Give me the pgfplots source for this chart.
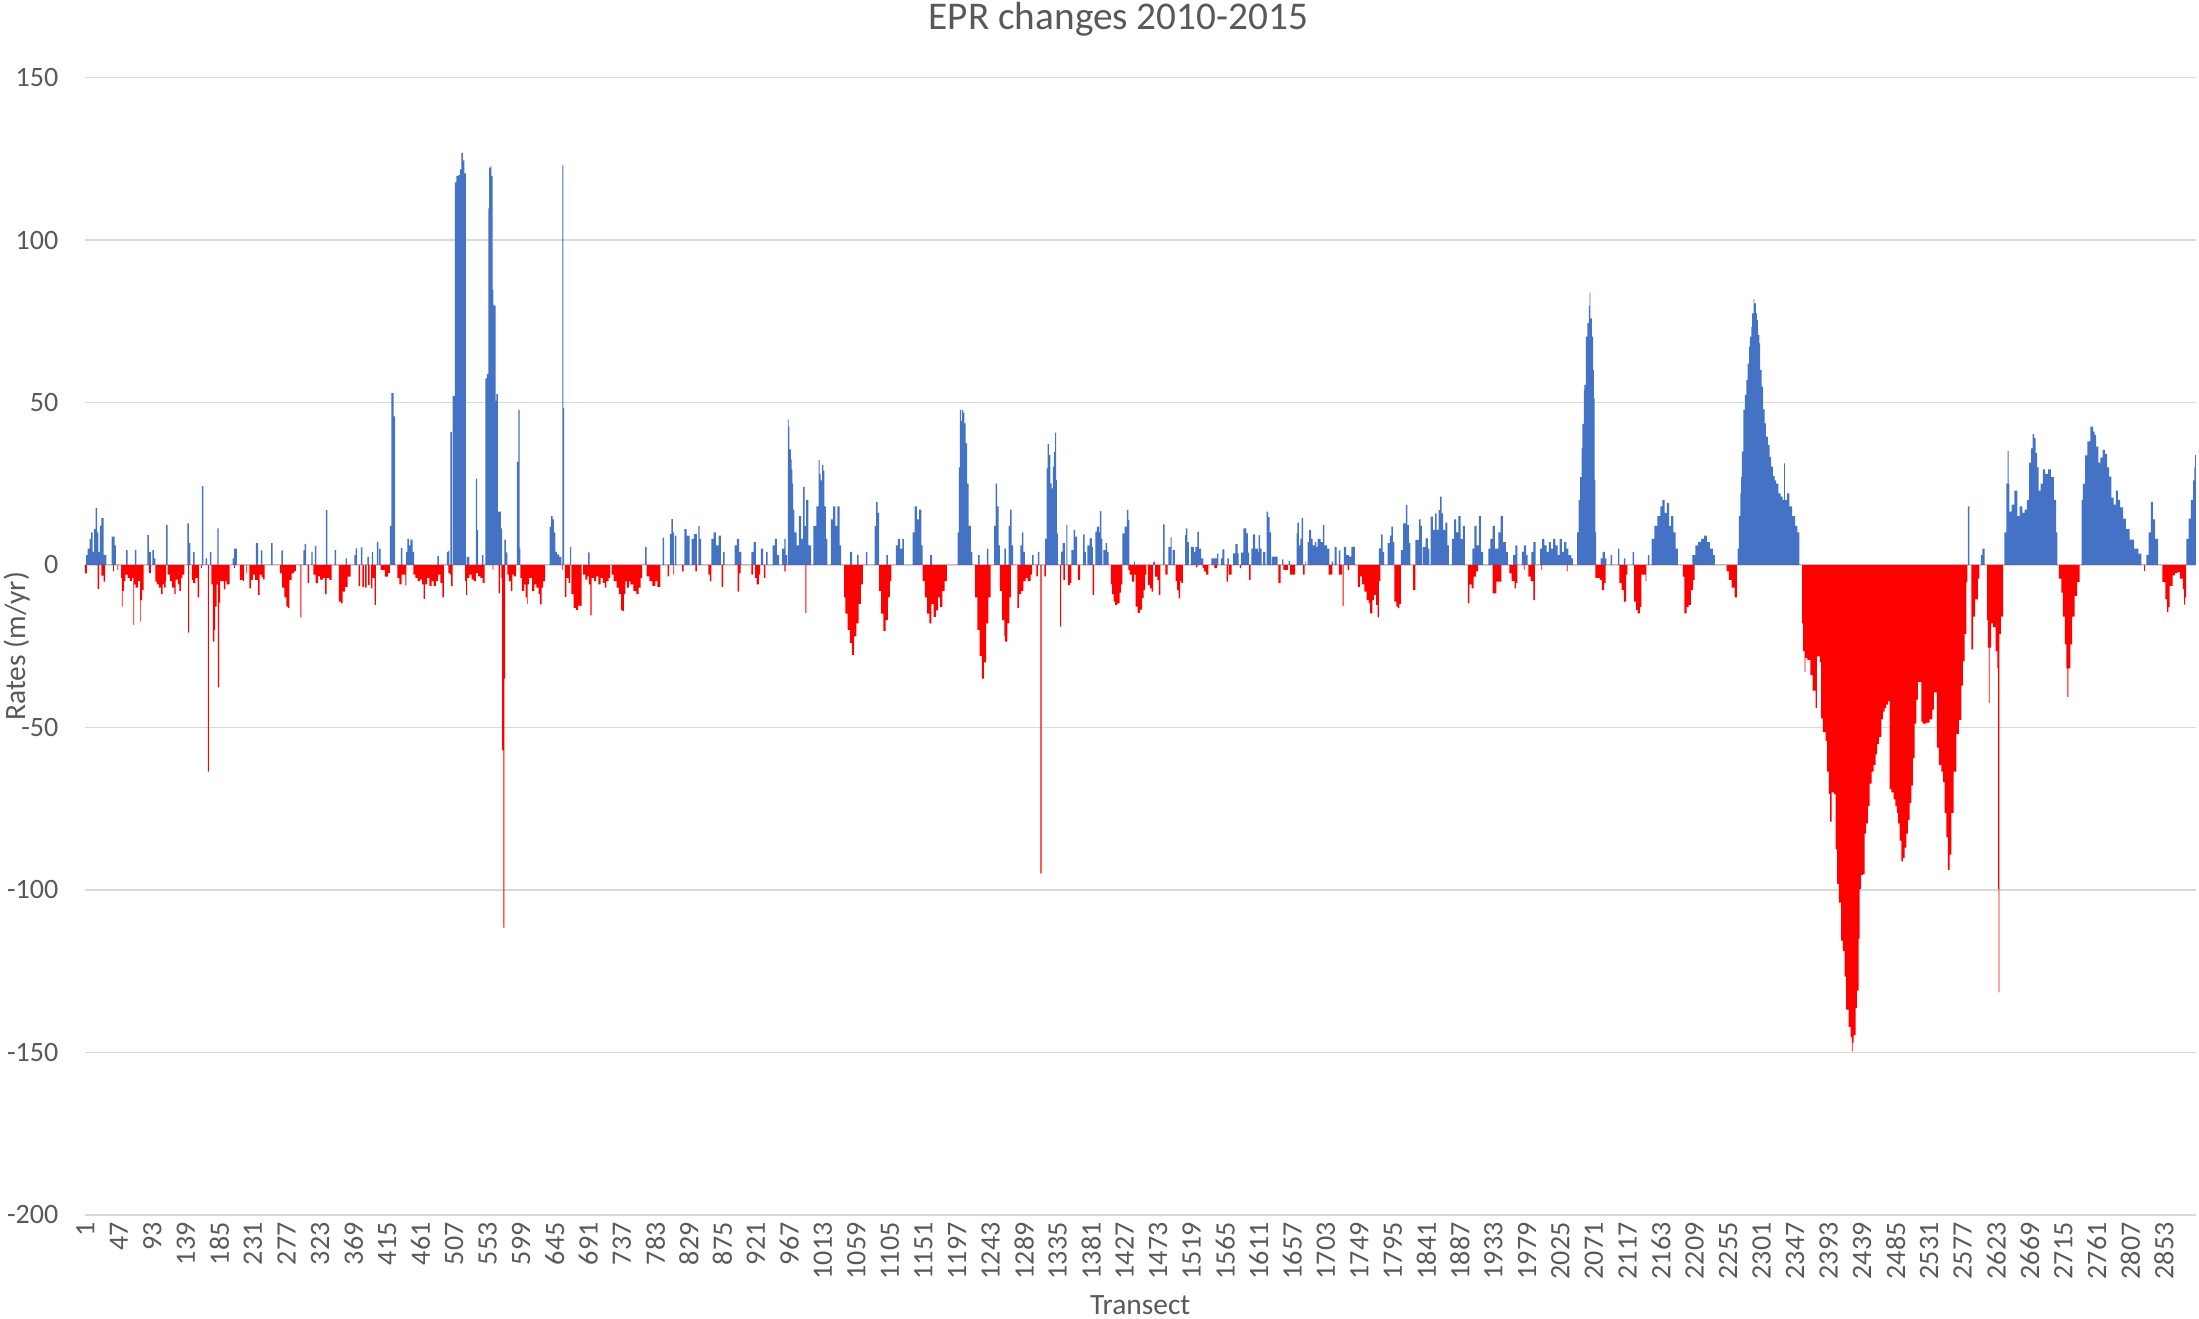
\documentclass[border=0pt]{standalone}
\usepackage{fontspec}
\setmainfont{Carlito}
\usepackage{pgfplots}
\pgfplotsset{compat=1.18}
\definecolor{eblue}{HTML}{4472C4}
\definecolor{ered}{HTML}{FF0000}
\definecolor{gridc}{HTML}{D9D9D9}
\definecolor{txt}{HTML}{595959}
\begin{document}
\begin{tikzpicture}
\useasboundingbox (0,0) rectangle (784pt,470.25pt);
\begin{axis}[
  at={(30.3pt,37.1pt)}, anchor=south west,
  scale only axis, width=752.6pt, height=405.5pt,
  xmin=0.5, xmax=2897, ymin=-200, ymax=150,
  axis line style={draw=none},
  major tick length=0pt,
  ytick={-200,-150,-100,-50,0,50,100,150},
  yticklabels={-200,-150,-100,-50,0,50,100,150},
  xtick={1,47,...,2853},
  scaled x ticks=false,
  xticklabel={\pgfmathprintnumber[assume math mode=true,fixed,precision=0,1000 sep={}]{\tick}},
  ymajorgrids, grid style={draw=gridc, line width=0.6pt},
  tick label style={font=\fontsize{10}{12}\selectfont, text=txt},
  yticklabel style={anchor=east, inner sep=0pt, xshift=-9.3pt},
  xticklabel style={yshift=-2.5pt, rotate=90, anchor=east, inner sep=0pt},
]
\addplot[const plot, fill=eblue, draw=none] table {
0.5 0
2 3
4 5
7 8
9 10
11 4
13 11
15 17.5
17 10
19 4
21 12
23 14.4
26 3
30 0
37 8.7
41 6
43 0
57 4.6
59 0
69 4.6
71 0
86 9.2
88 4
91 0
93 4.6
95 2
97 0
112 12.3
114 0
141 12.8
143 6.7
145 0
149 4
151 0
161 24.3
163 0
166 2
168 0
172 4
174 0
182 11.3
184 0
203 2
205 5
209 0
235 6.7
238 0
242 4.5
244 0
256 6.7
258 0
270 4.5
272 0
300 4.5
302 6.5
304 0
311 4
313 0
316 5.9
318 0
331 16.9
333 0
343 4.6
345 0
358 2
360 0
370 3
372 5.1
374 0
379 5.4
381 0
388 2.5
390 0
394 4
396 0
401 7.2
403 0
404 5
406 0
419 12
421 52.9
424 45.7
426 0
434 5.2
436 0
441 4
443 8
445 6
447 7.8
450 4
452 0
484 2.7
486 0
497 4
499 4.4
500.5 0
502 40.9
504 0
505 52
508 117.7
510 119.7
513 120
515 121.7
517 126.8
519 124.5
521 120.5
523 0
524 2.5
528 0
537 26.6
538.5 10.7
540 0
545 3
547 0
550 57.4
552 58.7
554 109.7
555 122.3
557 122.8
558 119.7
560 84.7
561 80
562 79.8
564 50.5
565 52.6
567 16.4
571 11.3
573 0
576 7.8
578 3.9
580 0
593 31.7
595 47.7
597 5
598 0
638 11.8
640 15
642 14
644 10
646 4
648 3.3
651 2.5
654 0
655.5 123
657 48.3
658 0
666 5.6
667.5 0
691 3.9
693 0
769 5.6
771 0
793 8.4
795 0
803 9.5
805 14.1
807 10
808.5 0
810 9
812 0
823 11
826 9
830 0
833 8
836 9.5
840 0
842 12
844 8
846 0
860 8
863 10
866 6
870 9
873 0
876 4
878 0
892 6
895 8
898 4
901 0
915 4
918 7
921 0
928 5
931 0
935 4
937 0
944 6
947 8
950 3
953 0
957 5
960 8
962 3
964 0
965 44.8
966 42.6
967 35.6
969 32.5
970 29.4
971 25
972 17
974 10
977 6
980 15
983 8
986 24
988 12
990 20
993 6
997 0
1000 12
1004 18
1007 32.3
1008.5 28
1010 26
1012 30.8
1013.5 29
1015 18
1017 8
1019 0
1024 14
1027 18
1030 12
1033 18
1036 6
1038 0
1050 4
1053 0
1060 3
1062 0
1072 4
1074 0
1084 12
1086 19.4
1088 16
1090 0
1100 3
1102 0
1113 6
1116 8
1119 5
1122 8
1124 0
1136 10
1139 18
1142 14
1145 17
1148 6
1150 0
1160 3
1163 0
1198 10
1199.5 30
1201 47.7
1202.5 44.3
1204 47.7
1205.5 46.9
1207 43.6
1209 37.4
1211 25
1213 12
1216 4
1218 0
1226 3
1228 0
1238 5
1240 0
1248 12
1250 25
1252 18
1254 6
1256 0
1262 5
1264 0
1268 12
1270 17
1272 6
1274 0
1284 6
1286 10
1288 4
1290 0
1300 3
1302 0
1308 4
1310 0
1318 8
1320 29.7
1321.5 37.2
1323 33.8
1325 25.1
1327 23.6
1328.5 30.3
1330 34.9
1331.5 40.7
1333 26.2
1334 9.7
1335.5 0
1340 4.1
1342 6.7
1345 0
1347 12.3
1348.5 0
1354 4.6
1357 10.8
1359 8.7
1362 0
1370 9.4
1372 4
1374 0
1376 6
1379 8.2
1382 5.6
1383.5 0
1387 10.3
1389 11.8
1392 10
1393 16.6
1395 8
1396.5 0
1398 4.6
1401 6.7
1403 4
1405 0
1424 9.7
1427 11.8
1430 16.9
1432 13.8
1433.5 0
1440 1
1441 0
1466 1
1469 0
1480 12.5
1482 0
1487 5.6
1490 8.5
1491.5 0
1493 4.6
1496 0
1510 9.2
1511 11.3
1513 7
1515 0
1518 5.6
1522 4
1524 5.6
1527 10.3
1529 5
1532 2
1535 0
1546 2
1554 3.5
1555.5 0
1559 2
1561 4.8
1564 0
1568 2
1570 0
1576 3.6
1579 6.4
1582 3.6
1583.5 0
1587 3.8
1590 11.3
1594 9.7
1596 3.8
1598 0
1601 5
1603 9.4
1606 5
1610 4
1611 9.2
1613 5
1615 0
1617 4
1620 0
1622 16.4
1624 14.7
1626 10
1628 0
1629 2.6
1637 0
1643 1.7
1645 0
1652 1.2
1654 0
1663 9.7
1664 13
1666 6
1668 8
1670 14.4
1672 0
1675 1
1676 0
1678 7
1680 10.8
1683 8
1685 6
1688 7
1690 5.6
1692 8
1696 7
1699 12.3
1701 6
1705 5
1708 0
1711 1
1713 0
1715 5.6
1718 0
1721 4.5
1723 0
1728 5.6
1731 3
1735 2.6
1738 5.6
1743 0
1776 5.1
1779 9.4
1781 4
1783 0
1788 6.7
1791 9
1793 11.8
1795 7
1797 0
1806 4.6
1809 12.8
1813 18.5
1815 12.3
1817 6.7
1819 0
1826 7.7
1831 14
1833 12
1835 0
1836 5.6
1840 8.2
1843 5
1845 0
1847 14.9
1850 10.8
1853 15.9
1855 10.8
1858 16.9
1860 21
1862 15.9
1864 10.8
1867 13
1870 6
1872 0
1876 8
1879 14
1882 10
1885 15
1888 8
1891 12
1894 0
1904 5
1907 12
1910 6
1913 15
1916 4
1919 0
1926 5
1929 8
1932 12
1935 5
1940 10
1943 15
1946 7
1950 4
1953 0
1960 3
1963 6
1966 0
1972 4
1975 6
1978 3
1980 0
1985 4
1988 7
1991 0
1997 5
2000 8
2003 6
2006 4
2009 7
2012 5
2015 8
2018 6
2021 3
2024 8
2027 4
2030 7
2033 5
2036 3
2040 2
2042 0
2048 10
2050 20
2052 27
2054 35.9
2055 43.4
2057 53.8
2058 55.4
2060 70.3
2062 74.4
2064 79.7
2065 83.8
2066 75.9
2068 70.3
2070 60
2071 51.3
2072 26
2073 10
2074 0
2080 2
2083 4
2086 2
2088 0
2094 3
2096 0
2104 5
2106 0
2112 2
2114 0
2124 4
2126 0
2145 3
2147 0
2150 8
2154 12
2158 15
2162 18
2165 20
2168 16
2171 19
2174 12
2177 15
2180 10
2183 5
2186 0
2206 3
2210 6
2214 7
2218 8
2222 9
2226 7
2230 5
2234 3
2237 0
2268 5
2270 15
2272 22
2273 27
2274 34.9
2276 47.7
2278 52.3
2280 56.9
2282 62
2284 67.2
2285 70.3
2287 73.3
2288 77.4
2290 81.8
2291 80.5
2293 77.4
2294.6 75.4
2296 70.8
2298 68.2
2299 60
2301 54.9
2303 47.9
2305 43.6
2307 39.5
2309.7 36.9
2312 33.3
2314 30.3
2316.5 27.4
2319 26
2321 25
2324 22
2327 21
2330 20
2332 31.3
2333 20
2336 22
2339 18
2343 15
2347 12
2350 10
2353 0
2584 18
2586 0
2602 3
2604 5
2607 0
2634 10
2637 25
2638.5 35
2640 25
2641 16.4
2644 18.6
2648 22.9
2652 15
2655 18
2659 16
2662 17
2665 20
2668 31.5
2671 35.9
2673 40.3
2675 39
2677 34.4
2679 30
2681 22.9
2684 25
2687 29.4
2690 28
2694 29.4
2698 27
2702 20
2705 10
2707 0
2740 20
2742 25
2745 33.7
2748 38
2752 42.6
2756 41
2758 40
2760 36.4
2763 31.5
2766 33
2769 35.4
2772 34.2
2775 30
2778 27.2
2781 20.7
2784 18.6
2787 22.9
2790 20
2793 17.7
2797 14.3
2801 11
2806 7.8
2812 5
2818 3.5
2822 0
2829 3
2832 10
2835 19.4
2838 14
2841 8
2845 0
2884 8
2887 14.3
2890 20
2893 26
2895 30
2896 33.8
2897 0
} \closedcycle;
\addplot[const plot, fill=ered, draw=none] table {
0.5 -2.6
3 0
18 -7.4
20 0
23 -3.3
26 -5.1
28 0
39 -2
40 0
45 -1.5
46 0
50 -4
51 -12.8
52 -8
54 -5
56 -3
59 -4
62 -5
65 -4
67 -18.5
68 -6
70 -7
73 -5
76 -17.4
77 -10.8
79 -7.7
81 0
88 -2.5
91 0
97 -5.1
99 -6
102 -7
105 -9
107 -6
109 -7
111 -5
112 0
114 -3
117 -5
120 -7
123 -9
125 -4.5
128 -6
130 -8
132 -4
134 -3
137 0
142 -20.8
143.5 0
147 -4.6
149 -5.6
152 -4
155 -10
157 0
160 -1
161 0
169 -63.6
170.5 0
174 -6
176 -23.6
178 -20
179 -12.8
181 -6
183 -37.7
184.5 -11.6
186 -5
191 -7.5
193 -5
195 -6
199 0
205 -1
206 0
213 -4.6
217 -5
219 0
222 -2.6
223 0
226 -7.2
228 -4.6
231 -3
234 -4.6
238 -9.2
240 -3
243 -3.8
245 -4.4
247 0
268 -2.6
271 -7
274 -10
277 -12.8
279 -13.3
281 -4.6
284 -2.6
287 -2
290 0
296 -16.1
297.5 0
306 -5.6
308 0
314 -3
317 -5.6
320 -3.5
323 -4.5
327 -4
330 -9
332 -4
336 -4.6
339 0
349 -11.3
352 -11.8
354 -8.2
357 -6.7
361 -3.6
365 0
376 -6.5
378 0
381 -6.7
383 0
385 -7
387 0
389 -6.2
391 0
393 -7.2
395 -4
398 -12.3
399.5 0
406 -1.5
412 -3.6
416 -2.5
419 0
429 -4
432 -6
435 -3
440 -6.3
441.5 0
451 -3
454 -4
457 -5
460 -4.5
463 -6
465 -10.4
467 -6
470 -4
473 -6.4
476 -5
479 -6.5
482 -5
485 -3
488 -5.5
491 -10
493 0
499 -2.5
501 -3
503 -6.4
505 0
522 -5
523.5 -9.2
525 -4
528 -3
531 -4.5
534 -5
537 -2.5
540 -3.5
543 -4
546 -5.5
549 0
560 -1.5
561 0
568 -8.7
570 0
572 -4
573 -57
574.5 -111.6
575.8 -35
577 0
580 -3
582 -5
585 -8
587 -3
589 -3.5
592 0
598 -4
600 -8
603 -6
605 -10
607 -12
608 -6
610 -4
614 -8
617 -6
620 -7
623 -9
625 -12.1
627 -7
629 -5
632 0
655 -1.5
656 0
659 -9.8
661 -4
664 -5.5
666 0
668 -9
671 -13.2
674 -13.8
677 -12.5
680 -12.6
682 0
684 -3
687 -4.5
690 -3.5
692 -6
694 -15.5
695.5 -4
699 -5
702 -3.5
705 -6
708 -4
711 -5.5
714 -7
716 -5
719 -4
721 0
723 -3
726 -5
730 -7
733 -9
736 -13.8
738 -14.2
740 -9
742 -5
744 -7
747 -5
749 -6
753 -8
757 -9
760 -7
763 -4
765 0
771 -3.5
775 -5
779 -6.4
783 -5
786 -6.7
790 0
800 -3.5
802 0
808 -3
809 0
820 -2
822 0
838 -2
840 0
856 -3
858 -5
860 0
874 -6.7
876 0
896 -8.2
898 -2.6
900 0
915 -3
917 0
920 -4
922 -6
925 -3
927 0
932 -4
934 0
960 -2
962 0
989 -14.7
990.5 0
1042 -10
1044 -15
1047 -20
1050 -24
1053 -27.7
1056 -22
1059 -18
1062 -12
1065 -6
1068 0
1090 -8
1093 -15
1096 -20.3
1099 -17
1102 -10
1105 -5
1107 0
1150 -5
1153 -10
1156 -15
1159 -18
1162 -12
1165 -16
1168 -14
1171 -10
1174 -13
1177 -8
1180 -5
1183 0
1222 -10
1225 -20
1228 -28
1231 -35
1234 -30
1237 -18
1240 -10
1243 0
1256 -8
1259 -17
1262 -22
1263 -23.6
1266 -18
1269 -10
1271 0
1280 -13.3
1282 -9
1285 -8
1288 -5
1291 -4
1294 -5
1298 -3
1300 0
1306 -3.5
1308 0
1311.5 -94.9
1313 0
1317 -3.5
1319 0
1338.5 -19
1340 0
1343 -4.6
1345 0
1349 -6.2
1352 -5.6
1354 0
1363 -4.6
1366 0
1383 -9.2
1385 0
1408 -6
1410 -9
1412 -11.3
1414 -12.3
1417 -11.8
1420 -8.5
1422 -6
1424 0
1432 -1.5
1434 -3
1437 -5.1
1440 -3
1442 -12.8
1445 -14.7
1448 -13.7
1451 -10.2
1453 -7.7
1455 -3
1457 0
1459 -6.2
1462 -7.2
1464 -8.2
1466 0
1469 -3.6
1472 -4.6
1474 -9.2
1476 0
1483 -3
1486 0
1497 -5
1499 -7.7
1501 -10.3
1503 -5
1505 -5.6
1507 0
1525 -0.7
1527 0
1534 -1
1536 -2
1539 -3
1542 0
1550 -1
1554 0
1567 -5.1
1569 0
1570 -3
1574 0
1585 -1
1587 0
1598 -4.6
1600 0
1638 -5.6
1641 0
1645 -1.5
1651 0
1654 -3
1661 0
1672 -3
1674 0
1707 -3
1712 0
1721 -3
1725 0
1726 -12.6
1727.5 0
1733 -1.5
1735 0
1747 -6.7
1750 -3.5
1753 -6
1756 -8.2
1759 -10.8
1762 -11.8
1764 -14.9
1767 -10.8
1769 -9.2
1772 -12.3
1774 -16.1
1776 -5
1778 0
1797 -11.3
1800 -12.8
1802 -13.3
1804 -12
1806 0
1823 -7.7
1826 0
1898 -11.8
1900 -6
1903 -7.2
1906 -3.6
1909 -2
1912 0
1932 -8.7
1937 -5.1
1942 -5.1
1944 0
1955 -2.6
1958 -5
1962 -7.2
1964 -5.6
1966 0
1975 -1.5
1976 0
1981 -3.6
1984 -5
1988 -10.8
1990 0
1999 -1.5
2000 0
2034 -2
2035 0
2073 -4
2079 -4.6
2082 -7.7
2085 -5.6
2087 0
2106 -5.6
2109 -7.7
2112 -11.3
2115 -3
2117 0
2126 -11.3
2129 -13.8
2131 -14.9
2134 -13
2136 -3
2142 -5
2143 0
2193 -3.6
2195 -14.9
2198 -13
2201 -12.3
2204 -7.7
2207 -4.6
2209 0
2253 -2
2256 -4.6
2260 -7
2264 -10
2267 0
2356.7 -18
2358 -26.5
2359.9 -32.9
2361 -28.6
2364 -29.2
2368 -33.9
2371 -38.7
2375 -44
2377 -28.1
2381 -30
2382.8 -47.2
2385 -51.4
2388.8 -54.1
2391 -63.6
2393.3 -70.5
2395.2 -79
2397 -70
2400.2 -70.5
2402.5 -87.5
2404.8 -98.1
2407 -103.9
2410.3 -115.6
2412.6 -118.8
2414.9 -126.7
2417.1 -136.8
2420.3 -142.1
2423.1 -145.3
2424.9 -149.7
2426 -147
2427.2 -144.7
2430 -136.3
2431.8 -131
2434.1 -115
2435.4 -99.7
2437.7 -95.4
2440 -95.2
2442.3 -82.7
2444.6 -79.5
2446.9 -74.2
2449.2 -67.3
2451.9 -63.6
2454.7 -61.5
2457.4 -58.3
2459.7 -55.1
2462 -53
2465.2 -47.5
2467.5 -45.1
2469.8 -44
2472 -43
2474.4 -41.9
2476.6 -68.9
2479 -70
2482.1 -72.1
2484.5 -74.2
2486.7 -76.3
2488.5 -79.5
2490.4 -84.8
2492.7 -91.2
2495 -90.1
2497.2 -87
2499.5 -82.7
2501.8 -78.5
2504 -73.2
2506.4 -67.9
2508.7 -59.4
2511 -48.8
2513.3 -41.4
2515.5 -36
2518 -36
2520.1 -48.2
2522 -48.8
2527 -48.5
2531.6 -47.5
2535.2 -44.5
2537.5 -39.2
2540 -39.2
2541.6 -56.2
2544.4 -61.5
2547.6 -63.6
2550 -66.8
2552.2 -76.3
2554.4 -83.8
2556.7 -93.8
2559 -89.1
2561.3 -76.3
2564.5 -63.6
2568.2 -52
2571.8 -47.7
2575 -37.1
2577.3 -29.7
2579.6 -21.2
2581.9 -5.3
2583.3 0
2588.8 -26
2591.1 -15.9
2594 -10.6
2597.9 -4.2
2600 0
2610.3 -17
2611.5 -25.4
2613 -42.4
2614 -25.4
2616 -18
2618.5 -19.1
2622.2 -26.5
2624.5 -31.8
2625.5 -99.7
2626.3 -131.5
2627.3 -21.2
2629.5 -15.9
2632.3 0
2709 -4.2
2712.4 -8.5
2714.5 -15.9
2717 -24.4
2719.2 -31.8
2720.6 -40.6
2722 -31.8
2724.7 -24.4
2727 -15.9
2730.6 -9.5
2734 -5.3
2737.5 0
2825.9 -1.9
2827 0
2851 -5.3
2855 -10.6
2857.4 -14.5
2859 -13
2861 -6.4
2865 -3.2
2868 -2.5
2872 -2.2
2875 -4.2
2879 -7.4
2880.8 -12.2
2882 -10
2883.5 0
} \closedcycle;
\end{axis}
\node[font=\fontsize{14}{17}\selectfont, text=txt, anchor=base] at (398.75pt,459.8pt) {EPR changes 2010-2015};
\node[font=\fontsize{10.5}{12}\selectfont, text=txt, rotate=90, anchor=center] at (6pt,239.85pt) {Rates (m/yr)};
\node[font=\fontsize{10.5}{12}\selectfont, text=txt, anchor=base] at (406.5pt,1.6pt) {Transect};
\end{tikzpicture}
\end{document}
